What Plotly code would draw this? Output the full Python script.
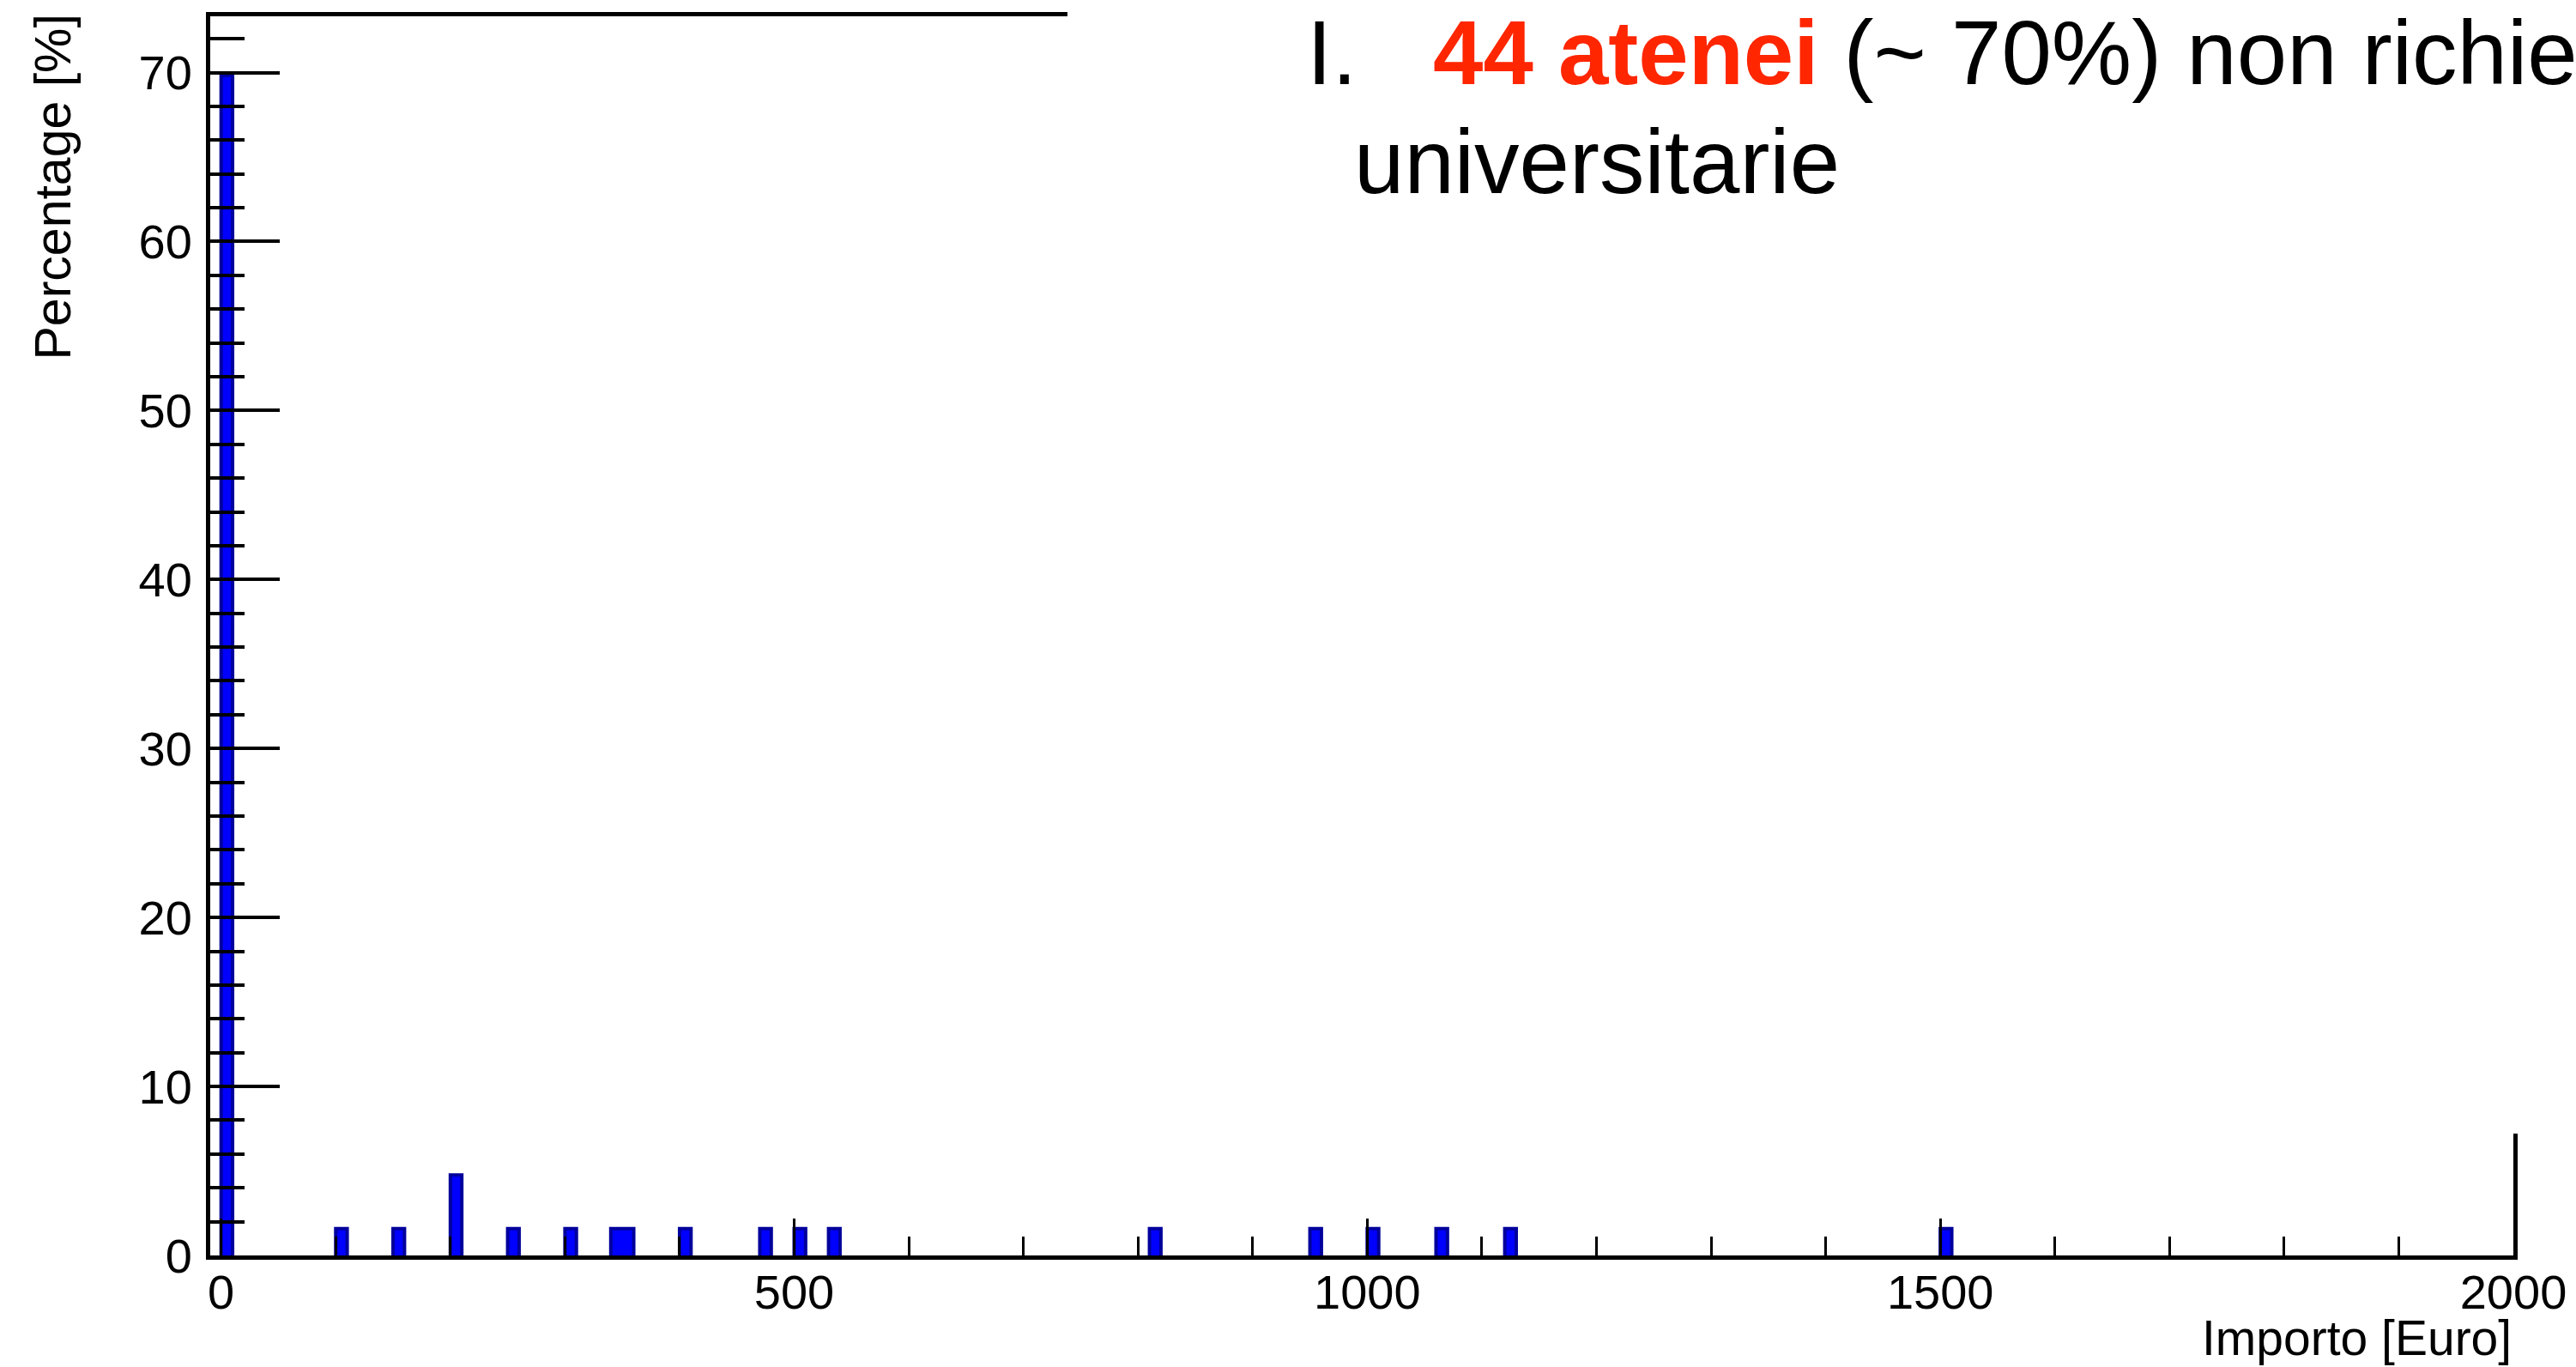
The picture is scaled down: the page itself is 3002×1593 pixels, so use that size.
import numpy as np
import plotly.graph_objects as go

# ---- data (histogram, bin width 10 EUR) ----
importo = [0, 100, 150, 200, 250, 300, 340, 350, 400, 470, 500, 530,
           810, 950, 1000, 1060, 1120, 1500]          # bin lower edges [Euro]
percentuale = [69.84, 1.587, 1.587, 4.762, 1.587, 1.587, 1.587, 1.587,
               1.587, 1.587, 1.587, 1.587, 1.587, 1.587, 1.587, 1.587,
               1.587, 1.587]                          # [%]
bin_width = 10
x_tick_vals = [0, 500, 1000, 1500, 2000]
y_tick_vals = [0, 10, 20, 30, 40, 50, 60, 70]
x_title = "Importo [Euro]"
y_title = "Percentage [%]"

W, H = 3002, 1593
L, R, T, B = 245, 73, 19, 130
PW, PH = W - L - R, H - T - B


def px_x(p):
    return (p - L) / PW


def px_y(p):
    return (H - B - p) / PH


FONT = "Liberation Sans, Arial, Helvetica, sans-serif"
FILL = "#0000FF"
EDGE = "#00009C"

# silhouette (ROOT-style contour) built from the same data
pairs = sorted(zip(importo, percentuale))
sx, sy = [], []
run = []
for a, p in pairs + [(None, None)]:
    if run and (a is None or a != run[-1][0] + bin_width):
        sx.append(run[0][0]); sy.append(0)
        for l, v in run:
            sx += [l, l + bin_width]; sy += [v, v]
        sx.append(run[-1][0] + bin_width); sy.append(0)
        sx.append(None); sy.append(None)
        run = []
    if a is not None:
        run.append((a, p))

fig = go.Figure()
fig.add_trace(go.Bar(x=importo, y=percentuale, width=bin_width, offset=0,
                     marker=dict(color=FILL, line=dict(width=0)),
                     hoverinfo="x+y"))
fig.add_trace(go.Scatter(x=sx, y=sy, mode="lines",
                         line=dict(color=EDGE, width=4),
                         hoverinfo="skip"))

fig.update_layout(
    width=W, height=H,
    margin=dict(l=L, r=R, t=T, b=B, pad=0),
    paper_bgcolor="white", plot_bgcolor="white",
    showlegend=False, bargap=0,
    font=dict(family=FONT, size=56, color="black"),
)
fig.update_xaxes(
    range=[-9.5, 2000], tickvals=x_tick_vals,
    ticks="inside", ticklen=43, tickwidth=3, tickcolor="black",
    showline=True, linewidth=5, linecolor="black", mirror=True,
    showgrid=False, zeroline=False, ticklabelstandoff=-10,
    tickfont=dict(size=56, family=FONT, color="black"),
    minor=dict(dtick=100, tick0=0, ticks="inside", ticklen=22, tickwidth=3,
               tickcolor="black", showgrid=False),
)
fig.update_yaxes(
    range=[0, 73.33], tickvals=y_tick_vals,
    ticks="inside", ticklen=81, tickwidth=4, tickcolor="black",
    showline=True, linewidth=5, linecolor="black", mirror=True,
    showgrid=False, zeroline=False, ticklabelstandoff=5,
    tickfont=dict(size=56, family=FONT, color="black"),
    minor=dict(dtick=2, tick0=0, ticks="inside", ticklen=40, tickwidth=4,
               tickcolor="black", showgrid=False),
)

# white slide text box covering the upper-right part of the frame
fig.add_shape(type="rect", xref="paper", yref="paper",
              x0=px_x(1244), x1=1.1, y0=px_y(1321), y1=1.1,
              fillcolor="white", line=dict(width=0), layer="above")

# axis titles (ROOT style: placed at the end of the axes)
fig.add_annotation(text=x_title, xref="paper", yref="paper",
                   x=1.0, y=px_y(1559), xanchor="right", yanchor="middle",
                   showarrow=False, font=dict(size=57, family=FONT, color="black"))
fig.add_annotation(text=y_title, xref="paper", yref="paper",
                   x=px_x(61), y=px_y(15), xanchor="center", yanchor="top",
                   textangle=-90, showarrow=False,
                   font=dict(size=59, family=FONT, color="black"))

# slide text
fig.add_annotation(text="I.", xref="paper", yref="paper",
                   x=px_x(1521), y=px_y(62), xanchor="left", yanchor="middle",
                   showarrow=False, font=dict(size=105, family=FONT, color="black"))
fig.add_annotation(text="<span style='color:#FF2600'><b>44 atenei</b></span> (~ 70%) non richie",
                   xref="paper", yref="paper",
                   x=px_x(1668), y=px_y(62), xanchor="left", yanchor="middle",
                   showarrow=False, font=dict(size=105, family=FONT, color="black"))
fig.add_annotation(text="universitarie", xref="paper", yref="paper",
                   x=px_x(1576), y=px_y(189), xanchor="left", yanchor="middle",
                   showarrow=False, font=dict(size=105, family=FONT, color="black"))

fig.write_html("out.html", config={"displayModeBar": False},
               post_script="document.body.style.margin='0';")
